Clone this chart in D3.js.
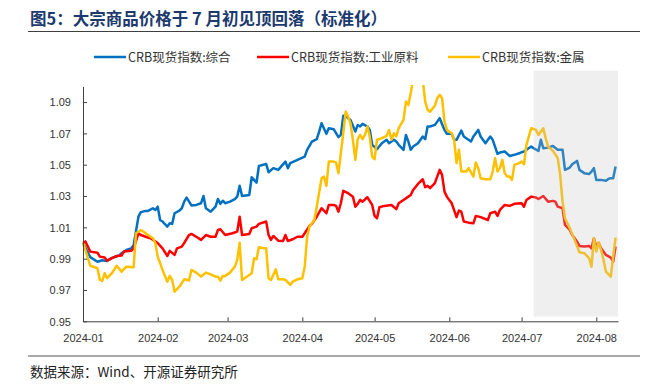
<!DOCTYPE html>
<html lang="zh">
<head>
<meta charset="UTF-8">
<title>大宗商品价格于7月初见顶回落</title>
<script src="https://cdn.jsdelivr.net/npm/d3@7"></script>
<style>
    body { margin: 0; background: #fff; }
    svg { display: block; }
    .title { font: bold 16.5px "Noto Sans CJK SC", sans-serif; fill: #1c3a6e; }
    .legend text { font: 12.5px "Noto Sans CJK SC", sans-serif; fill: #333; }
    .axis text { font: 11px "Liberation Sans", Arial, sans-serif; fill: #333; }
    .axis path, .axis line { stroke: #404040; stroke-width: 1px; }
    .source { font: 13.5px "Noto Sans CJK SC", sans-serif; fill: #222; }
    .line { fill: none; stroke-width: 2.5px; stroke-linejoin: round; }
</style>
</head>
<body>
<script>
    // CRB现货指数:综合
    const compDates = ["01-01","01-04","01-07","01-09","01-11","01-13","01-16","01-17","01-19","01-21","01-22","01-24","01-25","01-27","01-28","01-30","01-31",
        "02-01","02-02","02-03","02-05","02-06","02-07","02-08","02-10","02-11","02-12","02-13","02-15","02-17","02-19","02-20","02-21","02-23","02-25","02-26","02-27","02-28","02-29",
        "03-02","03-04","03-05","03-06","03-07","03-10","03-11","03-13","03-14","03-17","03-18","03-20","03-22","03-25","03-26","03-27","03-30",
        "04-02","04-03","04-05","04-07","04-08","04-09","04-11","04-12","04-14","04-16","04-17","04-18","04-19","04-20","04-21","04-23","04-24","04-25","04-26","04-28","04-29","04-30",
        "05-02","05-04","05-06","05-07","05-09","05-10","05-11","05-13","05-14","05-15","05-16","05-17","05-19","05-21","05-22","05-23","05-24","05-26","05-27","05-28","05-30","05-31",
        "06-02","06-03","06-04","06-06","06-07","06-10","06-11","06-13","06-14","06-16","06-18","06-19","06-21","06-22","06-24","06-26","06-28","06-30",
        "07-01","07-02","07-03","07-05","07-06","07-08","07-09","07-10","07-12","07-14","07-16","07-18","07-19","07-21","07-22","07-24","07-25","07-27","07-29","07-30","07-31",
        "08-01","08-03","08-05","08-06","08-07","08-08","08-09"];
    const compValues = [1.000,0.991,0.988,0.989,0.9885,0.9905,0.992,0.9935,0.9955,0.9966,0.9985,1.0168,1.0197,1.0205,1.0205,1.0222,1.0211,
        1.0232,1.0147,1.0137,1.0105,1.0126,1.0122,1.019,1.0207,1.0222,1.0264,1.029,1.024,1.0243,1.0254,1.030,1.0222,1.020,1.0232,1.0281,1.025,1.027,1.0254,
        1.0264,1.028,1.0296,1.0365,1.030,1.0307,1.042,1.0386,1.0492,1.0505,1.0452,1.0478,1.0467,1.052,1.0478,1.051,1.0531,
        1.0552,1.0595,1.0648,1.0663,1.0712,1.0765,1.0697,1.0733,1.0727,1.0676,1.069,1.0812,1.0812,1.0797,1.0786,1.0712,1.0754,1.0744,1.0761,1.0744,1.0722,1.0627,
        1.0599,1.0637,1.0659,1.0637,1.0659,1.0648,1.0627,1.0595,1.069,1.0648,1.0595,1.0616,1.0637,1.068,1.0663,1.0744,1.0744,1.0754,1.0775,1.0797,1.0722,1.0697,
        1.0697,1.0659,1.0659,1.0718,1.068,1.0648,1.068,1.0722,1.068,1.0637,1.068,1.0659,1.0569,1.0578,1.0584,1.0556,1.0563,1.0573,
        1.058,1.0584,1.0595,1.0616,1.0605,1.0588,1.0659,1.0605,1.0609,1.062,1.0595,1.0595,1.0467,1.0482,1.0503,1.0524,1.0467,1.0446,1.044,1.0456,1.0478,
        1.0403,1.0403,1.0397,1.0409,1.0414,1.0414,1.0488];

    // CRB现货指数:工业原料
    const indDates = ["01-01","01-02","01-04","01-07","01-08","01-10","01-11","01-13","01-15","01-17","01-18","01-21","01-22","01-24","01-25","01-27","01-29",
        "02-01","02-03","02-05","02-06","02-08","02-09","02-11","02-12","02-14","02-15","02-17","02-19","02-21","02-23","02-25","02-26","02-27","02-29",
        "03-03","03-05","03-06","03-07","03-10","03-11","03-13","03-14","03-17","03-18","03-19","03-20","03-22","03-24","03-25","03-26","03-28","03-30",
        "04-01","04-02","04-04","04-05","04-07","04-09","04-11","04-12","04-14","04-15","04-16","04-17","04-18","04-20","04-22","04-23","04-24","04-25","04-26","04-28","04-30",
        "05-01","05-02","05-03","05-05","05-08","05-10","05-11","05-13","05-15","05-16","05-17","05-19","05-21","05-22","05-23","05-24","05-26","05-28","05-29","05-30","05-31",
        "06-02","06-04","06-05","06-06","06-07","06-09","06-11","06-12","06-14","06-17","06-18","06-20","06-21","06-22","06-24","06-26","06-28",
        "07-01","07-02","07-03","07-05","07-07","07-08","07-10","07-12","07-14","07-15","07-16","07-18","07-19","07-21","07-22","07-24","07-25","07-27","07-29","07-30","07-31",
        "08-01","08-02","08-03","08-05","08-07","08-08","08-09"];
    const indValues = [1.000,1.001,0.9945,0.9938,0.9913,0.9907,0.9887,0.9903,0.9917,0.992,0.9945,0.995,0.9966,1.0062,1.0051,1.004,1.003,
        1.000,0.9966,0.9917,0.995,0.9924,0.9966,0.9977,1.000,1.0051,1.0058,1.004,1.002,1.0051,1.004,1.004,1.0083,1.0088,1.0051,
        1.0062,1.0073,1.0168,1.0051,1.0058,1.0094,1.0105,1.0122,1.0137,1.0051,1.002,1.0045,1.0015,1.0013,1.0051,1.0013,1.0024,1.004,
        1.004,1.0062,1.0109,1.0122,1.0168,1.0222,1.019,1.0243,1.0243,1.0237,1.020,1.0254,1.0333,1.0318,1.0296,1.0232,1.025,1.0275,1.0264,1.0292,1.0243,
        1.0173,1.0158,1.0228,1.0237,1.0243,1.0216,1.0254,1.0275,1.0296,1.0307,1.0339,1.0377,1.0407,1.0356,1.0365,1.035,1.0382,1.0467,1.0435,1.0328,1.0296,
        1.0254,1.0165,1.0207,1.020,1.0137,1.013,1.0126,1.0173,1.0165,1.0147,1.019,1.020,1.0173,1.0211,1.0243,1.0237,1.025,
        1.0254,1.0232,1.0275,1.0296,1.029,1.0281,1.030,1.0264,1.0269,1.0264,1.0232,1.0222,1.0115,1.0083,1.0051,1.0009,0.9981,0.9977,0.9981,0.9966,1.003,
        0.9977,1.000,0.9966,0.9924,0.9907,0.9881,0.9977];

    // CRB现货指数:金属
    const metalDates = ["01-01","01-02","01-04","01-07","01-08","01-09","01-10","01-11","01-13","01-15","01-17","01-19","01-22","01-23","01-25","01-26","01-28","01-30","01-31",
        "02-01","02-03","02-05","02-06","02-07","02-08","02-10","02-12","02-14","02-15","02-17","02-19","02-21","02-23","02-25","02-26","02-27","02-28","02-29",
        "03-02","03-04","03-05","03-06","03-07","03-10","03-11","03-12","03-13","03-14","03-16","03-17","03-18","03-19","03-21","03-22","03-24","03-25","03-27","03-28","03-30",
        "04-01","04-02","04-03","04-04","04-06","04-07","04-09","04-10","04-11","04-12","04-14","04-15","04-16","04-17","04-18","04-19","04-20","04-21","04-22","04-23","04-24","04-25","04-26","04-27","04-28","04-29","04-30",
        "05-01","05-02","05-04","05-06","05-07","05-08","05-09","05-10","05-11","05-13","05-14","05-15","05-16","05-17","05-18","05-20","05-21","05-22","05-23","05-24","05-26","05-27","05-28","05-29","05-30","05-31",
        "06-02","06-03","06-04","06-05","06-06","06-08","06-09","06-11","06-12","06-13","06-14","06-16","06-18","06-19","06-20","06-21","06-22","06-23","06-24","06-25","06-26","06-27","06-28","06-30",
        "07-01","07-02","07-03","07-05","07-07","07-08","07-10","07-11","07-12","07-14","07-16","07-17","07-18","07-19","07-21","07-23","07-25","07-27","07-29","07-30","07-31",
        "08-01","08-02","08-03","08-04","08-05","08-07","08-08","08-09"];
    const metalValues = [1.000,0.9955,0.9855,0.9839,0.9764,0.9758,0.9807,0.9775,0.9807,0.9855,0.9817,0.9849,0.9845,1.0062,1.0083,1.0073,1.0051,1.003,1.000,
        0.9913,0.9828,0.9753,0.979,0.9764,0.9689,0.9721,0.9768,0.976,0.9828,0.9811,0.9785,0.9811,0.980,0.9785,0.9785,0.976,0.979,0.979,
        0.9811,0.9849,0.9892,1.0002,0.9764,0.9796,0.9807,0.9903,0.9896,0.9973,0.9966,0.9966,0.9775,0.9764,0.9832,0.9768,0.9768,0.9764,0.9732,0.9753,0.9768,
        0.9775,0.9849,1.004,1.0105,1.0147,1.0232,1.0414,1.0424,1.0365,1.052,1.052,1.0514,1.0446,1.0573,1.0701,1.0839,1.0807,1.0765,1.0659,1.0531,1.0663,1.069,1.0663,1.069,1.0744,1.068,1.0552,
        1.0535,1.0659,1.0669,1.0684,1.0722,1.0659,1.0701,1.068,1.0733,1.0786,1.0903,1.0882,1.0957,1.105,1.112,1.110,1.104,1.0903,1.085,1.0839,1.0876,1.0925,1.0946,1.0925,1.0775,1.0722,
        1.0701,1.0659,1.051,1.0595,1.0456,1.0456,1.0478,1.0424,1.0514,1.0478,1.0414,1.0407,1.0407,1.0456,1.0542,1.0456,1.0478,1.0531,1.0446,1.0424,1.0424,1.0403,1.0499,1.051,
        1.052,1.0503,1.0627,1.0733,1.0722,1.069,1.0733,1.0669,1.0616,1.0588,1.0542,1.0435,1.0264,1.0158,1.0094,1.002,0.9941,0.9935,0.9903,0.9849,1.003,
        0.9945,1.0005,0.9955,0.9892,0.9817,0.9785,0.9913,1.0034];

    const seriesNames = ["CRB现货指数:综合", "CRB现货指数:工业原料", "CRB现货指数:金属"];
    const seriesColors = ["#0070c0", "#ff0000", "#ffc000"];
    const yTickValues = [0.95, 0.97, 0.99, 1.01, 1.03, 1.05, 1.07, 1.09];
    const xDomain = ["2024-01-01", "2024-08-10"];
    const yDomain = [0.95, 1.10];
    const bandDates = ["2024-07-06", "2024-08-10"];   // shaded period
    const bandValues = [0.953, 1.11];

    const width = 646, height = 391;
    const parse = d3.timeParse("%Y-%m-%d");
    const toSeries = (dates, values) => dates.map((d, i) => ({ date: parse("2024-" + d), value: values[i] }));
    const series = [
        toSeries(compDates, compValues),
        toSeries(indDates, indValues),
        toSeries(metalDates, metalValues)
    ];

    const svg = d3.select("body").append("svg")
        .attr("width", width)
        .attr("height", height);

    // Title and rules
    svg.append("text").attr("class", "title")
        .attr("x", 30).attr("y", 25)
        .text("图5：大宗商品价格于 7 月初见顶回落（标准化）");
    svg.append("line")
        .attr("x1", 28).attr("x2", 640).attr("y1", 31.5).attr("y2", 31.5)
        .attr("stroke", "#3f3f3f").attr("stroke-width", 1.2);
    svg.append("line")
        .attr("x1", 28).attr("x2", 640).attr("y1", 356).attr("y2", 356)
        .attr("stroke", "#8c8c8c").attr("stroke-width", 1.5);
    svg.append("text").attr("class", "source")
        .attr("x", 30).attr("y", 377)
        .text("数据来源：Wind、开源证券研究所");

    // Scales
    const x = d3.scaleTime().domain(xDomain.map(parse)).range([83, 618]);
    const y = d3.scaleLinear().domain(yDomain).range([321.3, 86.4]);

    // Legend
    const legendX = [94, 257, 448];
    const legend = svg.append("g").attr("class", "legend");
    seriesNames.forEach((name, i) => {
        legend.append("line")
            .attr("x1", legendX[i]).attr("x2", legendX[i] + 32)
            .attr("y1", 57).attr("y2", 57)
            .attr("stroke", seriesColors[i]).attr("stroke-width", 2.5);
        legend.append("text")
            .attr("x", legendX[i] + 34).attr("y", 61.5)
            .text(name);
    });

    // Clip for values running off the top of the axis
    const clipTop = y(yDomain[1]) - 1.5;
    svg.append("clipPath").attr("id", "plotClip")
        .append("rect")
        .attr("x", 80).attr("y", clipTop)
        .attr("width", 545).attr("height", 325 - clipTop);

    const line = d3.line()
        .x(d => x(d.date))
        .y(d => y(d.value));

    const plot = svg.append("g").attr("clip-path", "url(#plotClip)");
    series.forEach((s, i) => {
        plot.append("path")
            .datum(s)
            .attr("class", "line")
            .attr("stroke", seriesColors[i])
            .attr("d", line);
    });

    // Shaded band on top of lines
    svg.append("rect")
        .attr("x", x(parse(bandDates[0])))
        .attr("y", y(bandValues[1]))
        .attr("width", x(parse(bandDates[1])) - x(parse(bandDates[0])))
        .attr("height", y(bandValues[0]) - y(bandValues[1]))
        .attr("fill", "#bfbfbf")
        .attr("fill-opacity", 0.25);

    // Axes
    svg.append("g").attr("class", "axis")
        .attr("transform", "translate(83,0)")
        .call(d3.axisLeft(y)
            .tickValues(yTickValues)
            .tickFormat(d3.format(".2f"))
            .tickSizeInner(-4)
            .tickSizeOuter(0)
            .tickPadding(12))
        .call(g => g.selectAll("text").attr("dy", "0.35em"));

    svg.append("g").attr("class", "axis")
        .attr("transform", "translate(0,321.3)")
        .call(d3.axisBottom(x)
            .ticks(d3.timeMonth.every(1))
            .tickFormat(d3.timeFormat("%Y-%m"))
            .tickSizeInner(-4)
            .tickSizeOuter(0)
            .tickPadding(13));
</script>
</body>
</html>
